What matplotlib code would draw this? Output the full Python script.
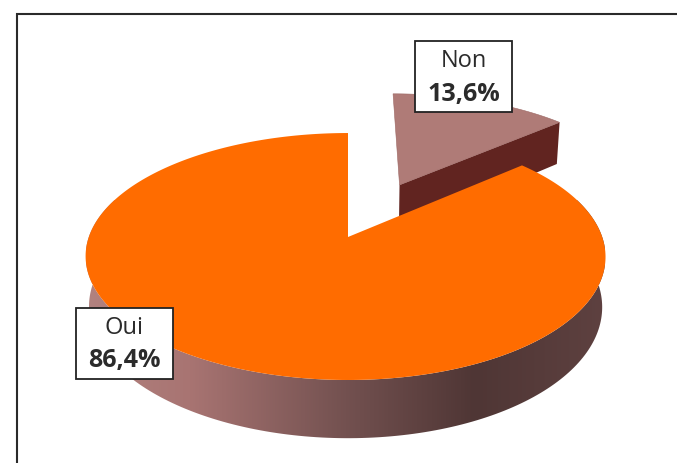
import numpy as np
import matplotlib
matplotlib.use("Agg")
import matplotlib.pyplot as plt
from matplotlib.colors import LinearSegmentedColormap
from matplotlib.patches import Polygon, Rectangle

categories = ["Non", "Oui"]
shares = [13.6, 86.4]
explode = [0.51, 0.0]

plt.rcParams['font.family'] = ['Open Sans', 'DejaVu Sans']

# perspective of the pie, in pixels
x0, y0 = 348, 237
A, B, k = 256.7, 120.4, 0.158
depth = 49
shrink = 0.987
lean = 2.5 # main ellipse sits a bit left of the apex

def project(t, r=1.0, off=0.0, mid=0.0, bottom=False):
    # t is degrees clockwise from 12 o'clock
    t = np.radians(t)
    mid = np.radians(mid)
    u = r*np.sin(t) + off*np.sin(mid)
    v = r*np.cos(t) + off*np.cos(mid)
    w = 1 + k*v
    px = x0 + A*u/w
    py = y0 - B*v/w
    if off == 0:
        px = px - lean*u**2
    else:
        px = px + 1
    if bottom:
        px = x0 + (px - x0)*shrink
        py = py + depth/w
    return np.column_stack([px, py])

end_non = 360*shares[0]/100
mid_non = end_non/2

fig = plt.figure(figsize=(6.77, 4.63), dpi=100)
ax = fig.add_axes([0, 0, 1, 1])
ax.set_xlim(0, 677)
ax.set_ylim(463, 0)
ax.axis("off")

# frame, only top and left are in the picture
ax.plot([677, 16.5, 16.5], [14, 14, 463], color="#2a2a2a", lw=1.5, solid_joinstyle="miter")

# Non slice
top_arc = project(np.linspace(0, end_non, 40), off=explode[0], mid=mid_non)
apex_top = project(0, r=0, off=explode[0], mid=mid_non)
apex_bot = project(0, r=0, off=explode[0], mid=mid_non, bottom=True)
corner_top = project(end_non, off=explode[0], mid=mid_non)
corner_bot = project(end_non, off=explode[0], mid=mid_non, bottom=True)
ax.add_patch(Polygon(np.vstack([apex_top, corner_top, corner_bot, apex_bot]),
                     color="#612420", lw=0, zorder=2))
ax.add_patch(Polygon(np.vstack([apex_top, top_arc]), facecolor="#af7b77",
                     edgecolor="#9c6763", lw=0.4, zorder=3))

# Oui slice: side wall with gradient, then top
ts = np.linspace(70, 290, 200)
wall = Polygon(np.vstack([project(ts), project(ts[::-1], bottom=True)]), transform=ax.transData)
cmap = LinearSegmentedColormap.from_list("wall", [(0, "#b2827f"), (0.2, "#a87472"), (0.5, "#735150"),
                                                  (0.75, "#4f3635"), (1, "#5e4140")])
grad = ax.imshow(np.linspace(0, 1, 256)[None, :], cmap=cmap, extent=(86, 605, 463, 200),
                 aspect="auto", zorder=4)
grad.set_clip_path(wall)
ax.set_xlim(0, 677)
ax.set_ylim(463, 0)

oui_arc = project(np.linspace(end_non, 360, 300))
ax.add_patch(Polygon(np.vstack([[x0, y0], oui_arc]), color="#ff6c00", lw=0, zorder=5))

# labels
boxes = [(415, 41, 97, 71), (76, 308, 97, 71)]
for name, share, (bx, by, bw, bh) in zip(categories, shares, boxes):
    ax.add_patch(Rectangle((bx, by), bw, bh, facecolor="white", edgecolor="#222222", lw=1.3, zorder=6))
    ax.text(bx + bw/2, by + 20, name, ha="center", va="center", fontsize=17, color="#2b2b2b", zorder=7)
    ax.text(bx + bw/2, by + 53, f"{share:.1f}%".replace(".", ","), ha="center", va="center",
            fontsize=18, fontweight="bold", color="#2b2b2b", zorder=7)

fig.savefig("out.png", dpi=100)
